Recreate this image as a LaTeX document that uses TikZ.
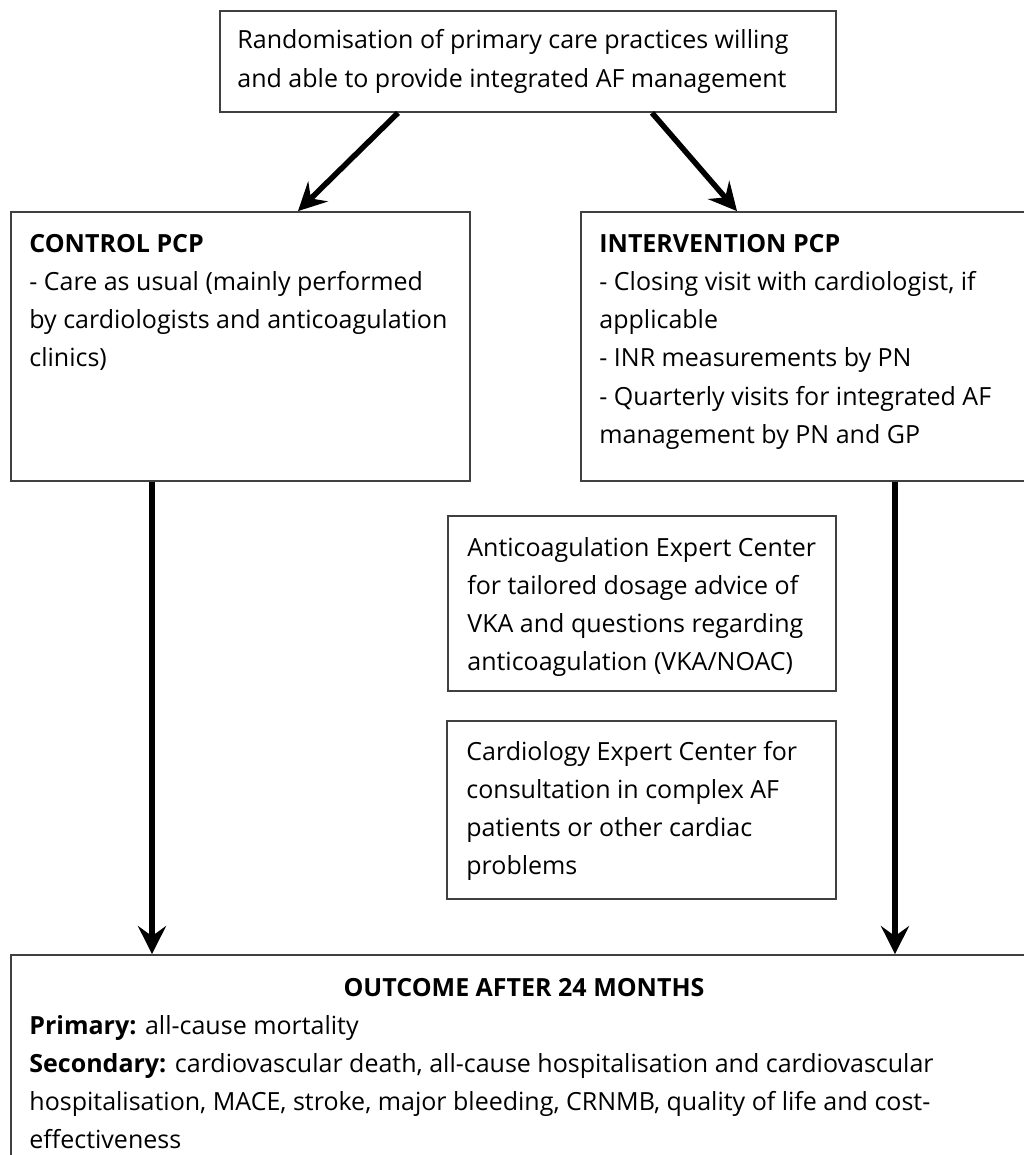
\documentclass[tikz,border=0pt]{standalone}
\usepackage{fontspec}
\setmainfont{Open Sans}
\usetikzlibrary{arrows.meta,fit}
\definecolor{framegray}{HTML}{404040}
\begin{document}
\begin{tikzpicture}[x=0.5pt, y=-0.5pt, >={Stealth[length=14pt,width=14pt,inset=5pt]},
    frame/.style={draw=framegray, line width=0.9pt, inner sep=0pt},
    txt/.style={align=left, inner sep=0pt, anchor=base west, font=\fontsize{12.5}{19.15}\selectfont},
    arr/.style={->, line width=2.75pt}]
\useasboundingbox (0,0) rectangle (1023,1155);
% boxes
\node[frame, fit={(220,11) (836,112)}] (rand) {};
\node[frame, fit={(11,212) (470,481)}] (ctrl) {};
\node[frame, fit={(581,212) (1030,481)}] (intv) {};
\node[frame, fit={(448,516) (836,691)}] (anticoag) {};
\node[frame, fit={(447,721) (836,899)}] (cardio) {};
\node[frame, fit={(11,955) (1030,1165)}] (outcome) {};
% texts (placed at the baseline of their last line)
\node[txt] (randtxt) at (237,87.3) {Randomisation of primary care practices willing\\and able to provide integrated AF management};
\node[txt] (ctrltxt) at (29,366.9) {\textbf{CONTROL PCP}\\- Care as usual (mainly performed\\by cardiologists and anticoagulation\\clinics)};
\node[txt] (intvtxt) at (599,443.5) {\textbf{INTERVENTION PCP}\\- Closing visit with cardiologist, if\\applicable\\- INR measurements by PN\\- Quarterly visits for integrated AF\\management by PN and GP};
\node[txt] (anticoagtxt) at (467,670.9) {Anticoagulation Expert Center\\for tailored dosage advice of\\VKA and questions regarding\\anticoagulation (VKA/NOAC)};
\node[txt] (cardiotxt) at (466,874.9) {Cardiology Expert Center for\\consultation in complex AF\\patients or other cardiac\\problems};
\node[txt, anchor=base] (outtitle) at (524,996) {\textbf{OUTCOME AFTER 24 MONTHS}};
\node[txt] (outtxt) at (29,1148.9) {\textbf{Primary:} all-cause mortality\\\textbf{Secondary:} cardiovascular death, all-cause hospitalisation and cardiovascular\\hospitalisation, MACE, stroke, major bleeding, CRNMB, quality of life and cost-\\effectiveness};
% arrows
\draw[arr] ([xshift=-65pt]rand.south) -- ([xshift=28.75pt]ctrl.north);
\draw[arr] ([xshift=62pt]rand.south) -- ([xshift=-34.25pt]intv.north);
\draw[arr] ([xshift=-44.25pt]ctrl.south) -- ([xshift=-44.25pt]ctrl.south |- outcome.north);
\draw[arr] ([xshift=44.75pt]intv.south) -- ([xshift=44.75pt]intv.south |- outcome.north);
\end{tikzpicture}
\end{document}
